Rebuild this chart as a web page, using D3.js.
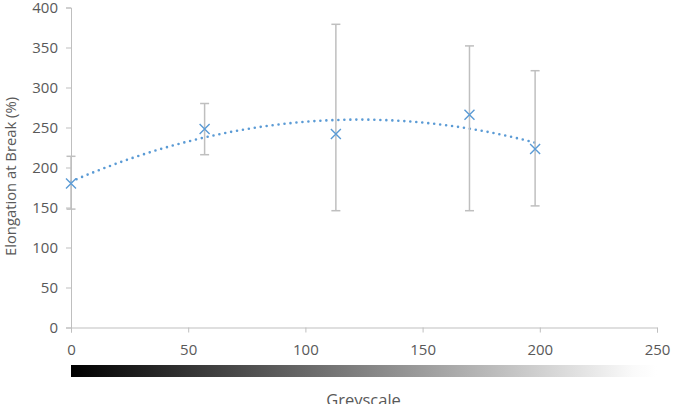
<!DOCTYPE html>
<html>
<head>
<meta charset="utf-8">
<script src="https://cdn.jsdelivr.net/npm/d3@7"></script>
<style>
  body { margin: 0; background: #fff; }
  svg { display: block; font-family: "Open Sans", sans-serif; }
</style>
</head>
<body>
<svg id="chart" width="674" height="404"></svg>
<script>
// greyscale level of each sample and measured elongation (%)
var greyscale = [0, 57, 113, 170, 198];
var elongation = [180, 248, 242, 266, 223];
var errUpper = [214, 280, 379, 352, 321];
var errLower = [148, 216, 146, 146, 152];

var xTicks = [0, 50, 100, 150, 200, 250];
var yTicks = [0, 50, 100, 150, 200, 250, 300, 350, 400];

var svg = d3.select("#chart");
var blue = "#5b9bd5", axisCol = "#bfbfbf", textCol = "#595959";

var x = d3.scaleLinear().domain([0, 250]).range([71, 657]);
var y = d3.scaleLinear().domain([0, 400]).range([327.5, 7.5]);

// axes
var yAxis = svg.append("g").attr("transform", "translate(" + x(0) + ",0)")
	.call(d3.axisLeft(y).tickValues(yTicks).tickSize(5).tickPadding(8));
var xAxis = svg.append("g").attr("transform", "translate(0," + y(0) + ")")
	.call(d3.axisBottom(x).tickValues(xTicks).tickSize(5).tickPadding(12));
[xAxis, yAxis].forEach(function(a) {
	a.select(".domain").attr("stroke", axisCol);
	a.selectAll(".tick line").attr("stroke", axisCol);
	a.selectAll("text").attr("fill", textCol).style("font-size", "15px").style("font-family", "Open Sans");
});

// greyscale bar under x axis
var grad = svg.append("defs").append("linearGradient").attr("id", "grey")
	.attr("x1", "0%").attr("x2", "100%");
grad.append("stop").attr("offset", "0%").attr("stop-color", "#000");
grad.append("stop").attr("offset", "96%").attr("stop-color", "#fafafa");
grad.append("stop").attr("offset", "100%").attr("stop-color", "#fff");
svg.append("rect").attr("x", x(0)).attr("y", 365).attr("width", x(250) - x(0)).attr("height", 12)
	.attr("fill", "url(#grey)");

// polynomial (order 2) trendline, least squares on the data
function polyFit(xs, ys) {
	var n = xs.length, S = [0,0,0,0,0], T = [0,0,0];
	for (var i = 0; i < n; i++) {
		for (var k = 0; k < 5; k++) S[k] += Math.pow(xs[i], k);
		for (var k = 0; k < 3; k++) T[k] += ys[i] * Math.pow(xs[i], k);
	}
	var M = [[S[0],S[1],S[2],T[0]],[S[1],S[2],S[3],T[1]],[S[2],S[3],S[4],T[2]]];
	for (var c = 0; c < 3; c++) {
		for (var r = c + 1; r < 3; r++) {
			var f = M[r][c] / M[c][c];
			for (var j = c; j < 4; j++) M[r][j] -= f * M[c][j];
		}
	}
	var b = [0,0,0];
	for (var r = 2; r >= 0; r--) {
		var s = M[r][3];
		for (var j = r + 1; j < 3; j++) s -= M[r][j] * b[j];
		b[r] = s / M[r][r];
	}
	return b;
}
var coef = polyFit(greyscale, elongation);
var xs = d3.range(0, greyscale[greyscale.length - 1] + 0.5, 1);
svg.append("path")
	.datum(xs)
	.attr("fill", "none")
	.attr("stroke", blue)
	.attr("stroke-width", 2.6)
	.attr("stroke-linecap", "round")
	.attr("stroke-dasharray", "0 6")
	.attr("d", d3.line()
		.x(function(d) { return x(d); })
		.y(function(d) { return y(coef[0] + coef[1] * d + coef[2] * d * d); }));

// error bars
var eb = svg.append("g").attr("stroke", axisCol).attr("stroke-width", 1.5);
greyscale.forEach(function(g, i) {
	eb.append("line").attr("x1", x(g)).attr("x2", x(g)).attr("y1", y(errLower[i])).attr("y2", y(errUpper[i]));
	[errLower[i], errUpper[i]].forEach(function(v) {
		eb.append("line").attr("x1", x(g) - 4.5).attr("x2", x(g) + 4.5).attr("y1", y(v)).attr("y2", y(v));
	});
});

// x markers
svg.append("g").selectAll("path").data(greyscale).enter().append("path")
	.attr("d", function(d, i) {
		var cx = x(d), cy = y(elongation[i]), s = 5;
		return "M" + (cx - s) + "," + (cy - s) + "L" + (cx + s) + "," + (cy + s) +
			"M" + (cx - s) + "," + (cy + s) + "L" + (cx + s) + "," + (cy - s);
	})
	.attr("stroke", blue).attr("stroke-width", 1.4).attr("fill", "none");

// axis titles
svg.append("text").attr("transform", "translate(16,176.5) rotate(-90)")
	.attr("text-anchor", "middle").attr("fill", textCol).style("font-size", "14.8px")
	.text("Elongation at Break (%)");
svg.append("text").attr("x", 363.5).attr("y", 406)
	.attr("text-anchor", "middle").attr("fill", textCol).style("font-size", "16.5px")
	.text("Greyscale");
</script>
</body>
</html>
